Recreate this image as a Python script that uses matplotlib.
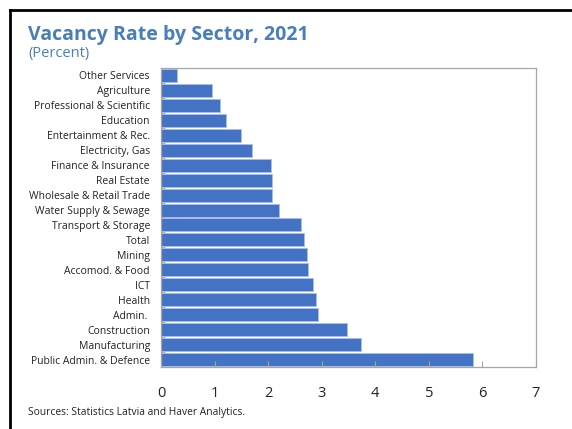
import matplotlib

matplotlib.use("Agg")
import matplotlib.pyplot as plt
from matplotlib.lines import Line2D

plt.rcParams["font.family"] = ["Open Sans", "DejaVu Sans"]

sectors = [
    "Other Services", "Agriculture", "Professional & Scientific", "Education",
    "Entertainment & Rec.", "Electricity, Gas", "Finance & Insurance", "Real Estate",
    "Wholesale & Retail Trade", "Water Supply & Sewage", "Transport & Storage", "Total",
    "Mining", "Accomod. & Food", "ICT", "Health", "Admin. ", "Construction",
    "Manufacturing", "Public Admin. & Defence",
]
rates = [0.30, 0.96, 1.11, 1.21, 1.50, 1.70, 2.05, 2.08, 2.08, 2.20,
         2.61, 2.66, 2.73, 2.75, 2.83, 2.90, 2.93, 3.48, 3.73, 5.83]
xticks = [0, 1, 2, 3, 4, 5, 6, 7]

W, H = 572, 429
fig = plt.figure(figsize=(W / 100, H / 100), dpi=100)
ax = fig.add_axes([161 / W, 1 - 367 / H, (536 - 161) / W, (367 - 68) / H])

ypos = list(range(len(sectors)))
ax.barh(ypos, rates, height=0.87, color="#4472C4", edgecolor="#A9BEE6", linewidth=0.6)
ax.set_ylim(len(sectors) - 0.5, -0.5)
ax.set_xlim(0, 7)
ax.set_xticks(xticks)
ax.set_yticks(ypos)
ax.set_yticklabels(sectors, fontsize=7.5, color="#222222")
ax.set_yticks([y + 0.5 for y in ypos[:-1]], minor=True)
ax.tick_params(axis="y", which="major", length=0, pad=8)
ax.tick_params(axis="y", which="minor", direction="in", length=3, color="#A6A6A6")
ax.tick_params(axis="x", direction="in", length=4, color="#A6A6A6", labelsize=10.5,
               labelcolor="#222222", pad=14)
for s in ax.spines.values():
    s.set_color("#A6A6A6")
    s.set_linewidth(0.9)

# frame lines around the chart (left and top only)
fig.add_artist(Line2D([9.5 / W, 9.5 / W], [0, 1 - 9.5 / H], color="black", lw=2,
                      transform=fig.transFigure))
fig.add_artist(Line2D([9.5 / W, 1], [1 - 9.5 / H, 1 - 9.5 / H], color="black", lw=2,
                      transform=fig.transFigure))

fig.text(28 / W, 1 - 35 / H, "Vacancy Rate by Sector, 2021", fontsize=14, fontweight="bold",
         color="#4A7EBB", va="center", ha="left")
fig.text(28 / W, 1 - 54 / H, "(Percent)", fontsize=10.5, color="#4A7EBB", va="center", ha="left")
fig.text(28 / W, 1 - 413 / H, "Sources: Statistics Latvia and Haver Analytics.", fontsize=7.4,
         color="#222222", va="center", ha="left")

fig.savefig("out.png", dpi=100)
